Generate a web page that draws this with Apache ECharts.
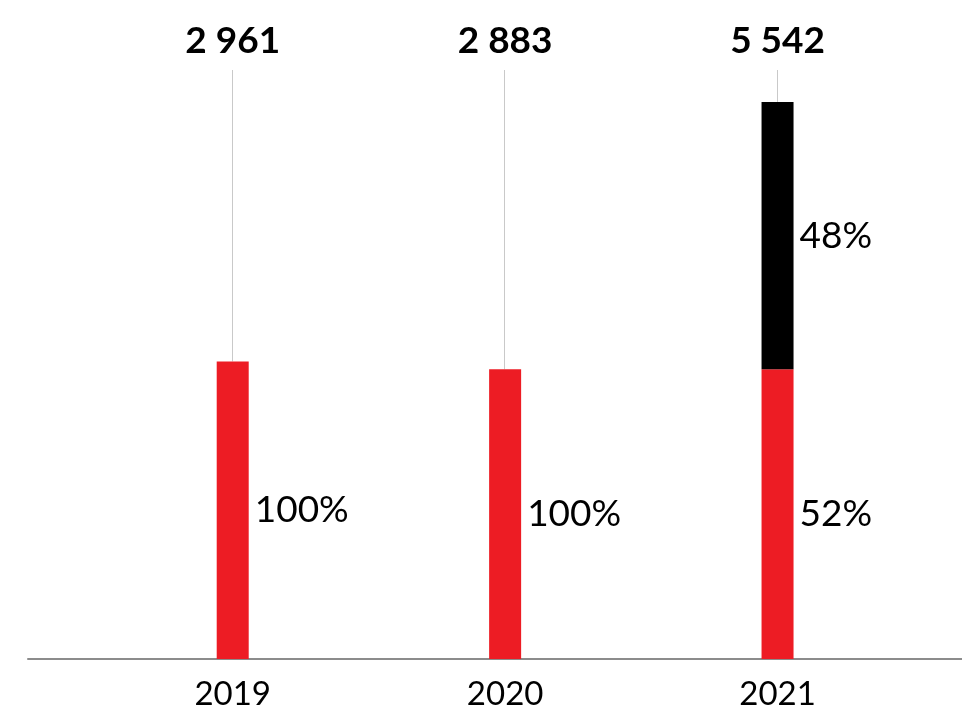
<!DOCTYPE html>
<html>
<head>
<meta charset="utf-8">
<script src="https://cdn.jsdelivr.net/npm/echarts@6/dist/echarts.min.js"></script>
<style>
  html, body { margin: 0; padding: 0; background: #fff; }
  #chart { width: 962px; height: 711px; }
</style>
</head>
<body>
<div id="chart"></div>
<script>
// Yearly totals and how each total splits into two parts (in %)
const years = ['2019', '2020', '2021'];
const totals = [2961, 2883, 5542];
const redShare = [100, 100, 52];
const blackShare = [null, null, 48];

const yMax = 5860;
const FONT = 'Lato, "Noto Sans", sans-serif';

// segment heights follow the stated percentages
const redValues = totals.map((t, i) => redShare[i] == null ? null : Math.round(t * redShare[i] / 100));
const blackValues = totals.map((t, i) => blackShare[i] == null ? null : t - redValues[i]);

const fmtTotal = v => String(v).replace(/\B(?=(\d{3})+(?!\d))/g, ' ');

const chart = echarts.init(document.getElementById('chart'), null, { renderer: 'canvas' });

const pctLabel = shares => ({
  show: true,
  position: 'right',
  distance: 6,
  color: '#000',
  fontFamily: FONT,
  fontSize: 37,
  formatter: p => shares[p.dataIndex] == null ? '' : shares[p.dataIndex] + '%'
});

chart.setOption({
  animation: false,
  backgroundColor: '#fff',
  grid: [
    { left: 96.5, right: 48.25, top: 70, bottom: 52 },
    { left: 28, right: 0, top: 70, bottom: 52 }
  ],
  xAxis: [
    {
      type: 'category',
      gridIndex: 0,
      data: years,
      axisLine: { show: false },
      axisTick: { show: false },
      axisLabel: { color: '#000', fontFamily: FONT, fontSize: 33, margin: 19 }
    },
    {
      type: 'value',
      gridIndex: 1,
      min: 0, max: 1,
      axisLine: { show: true, onZero: false, lineStyle: { color: '#8c8c8c', width: 2 } },
      axisTick: { show: false },
      axisLabel: { show: false },
      splitLine: { show: false }
    }
  ],
  yAxis: [
    { type: 'value', gridIndex: 0, min: 0, max: yMax, show: false, splitLine: { show: false } },
    { type: 'value', gridIndex: 1, min: 0, max: 1, show: false, splitLine: { show: false } }
  ],
  series: [
    {
      type: 'custom',
      xAxisIndex: 0,
      yAxisIndex: 0,
      z: 1,
      clip: false,
      data: totals.map((t, i) => [i, t]),
      renderItem: (params, api) => {
        const i = api.value(0);
        const barTop = api.coord([i, api.value(1)]);
        const axisTop = api.coord([i, yMax]);
        const x = Math.round(barTop[0]) - 0.5;
        return {
          type: 'group',
          children: [
            {
              type: 'line',
              shape: { x1: x, y1: axisTop[1], x2: x, y2: barTop[1] },
              style: { stroke: '#c9c9c9', lineWidth: 1 }
            },
            {
              type: 'text',
              style: {
                x: barTop[0],
                y: axisTop[1] - 29,
                text: fmtTotal(totals[i]),
                align: 'center',
                verticalAlign: 'middle',
                fill: '#000',
                font: 'bold 37px ' + FONT
              }
            }
          ]
        };
      }
    },
    {
      type: 'bar',
      stack: 'total',
      barWidth: 32,
      z: 2,
      itemStyle: { color: '#ED1C24' },
      label: pctLabel(redShare),
      data: redValues
    },
    {
      type: 'bar',
      stack: 'total',
      barWidth: 32,
      z: 2,
      itemStyle: { color: '#000' },
      label: pctLabel(blackShare),
      data: blackValues
    }
  ]
});
</script>
</body>
</html>
